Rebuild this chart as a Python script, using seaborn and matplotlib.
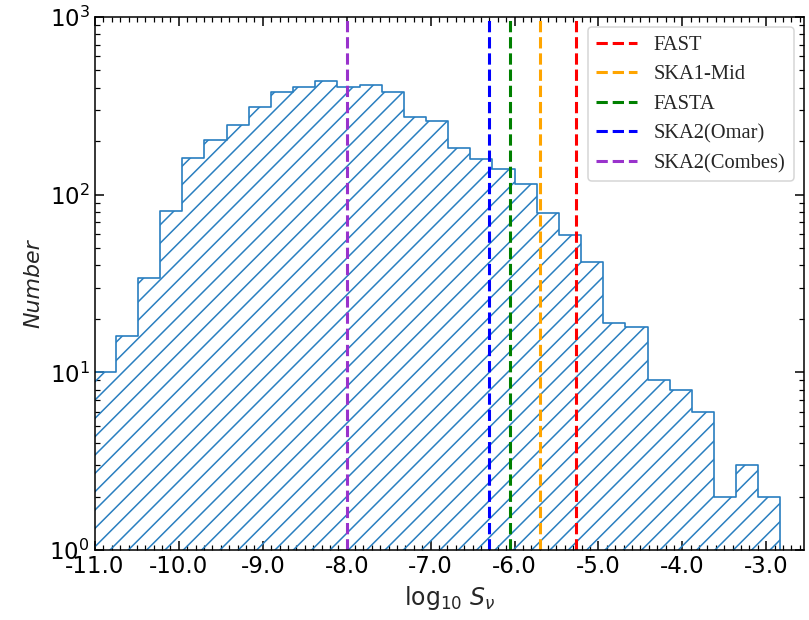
import numpy as np
import pandas as pd
import matplotlib
matplotlib.use("Agg")
import matplotlib.pyplot as plt
from matplotlib.ticker import FormatStrFormatter, MultipleLocator
import seaborn as sns

# histogram of log10 flux
bin_lo, bin_hi, n_bins = -11.015, -2.83, 31
counts = [10, 16, 34, 81, 160, 203, 247, 310, 379, 405, 436, 405, 414, 376, 275,
          260, 182, 158, 139, 115, 79, 59, 42, 19, 18, 9, 8, 6, 2, 3, 2]

# detection limits
surveys = ["FAST", "SKA1-Mid", "FASTA", "SKA2(Omar)", "SKA2(Combes)"]
limits = [-5.27, -5.70, -6.05, -6.30, -8.0]
line_colors = ["red", "orange", "green", "blue", "darkorchid"]

edges = np.linspace(bin_lo, bin_hi, n_bins + 1)
centers = 0.5 * (edges[:-1] + edges[1:])
df = pd.DataFrame({"logS": centers, "n": counts})

sns.set_style("ticks")
plt.rcParams["hatch.color"] = "#2a7fc0"
plt.rcParams["hatch.linewidth"] = 1.0

fig = plt.figure(figsize=(809 / 110, 620 / 110), dpi=110)
ax = fig.add_axes([0.1174, 0.1129, 0.8764, 0.8597])

sns.histplot(data=df, x="logS", weights="n", bins=n_bins,
             binrange=(bin_lo, bin_hi), element="step",
             fill=True, color="#2a7fc0", ax=ax, legend=False)
poly = ax.collections[0]
poly.set_facecolor("none")
poly.set_edgecolor("#2a7fc0")
poly.set_hatch("//")
poly.set_linewidth(1.1)

for name, x, c in zip(surveys, limits, line_colors):
    ax.axvline(x, color=c, ls="--", lw=2, label=name)

ax.set_yscale("log")
ax.set_ylim(1, 1000)
ax.set_xlim(-11.0, -2.55)
ax.xaxis.set_major_locator(MultipleLocator(1.0))
ax.xaxis.set_minor_locator(MultipleLocator(0.1))
ax.xaxis.set_major_formatter(FormatStrFormatter("%.1f"))

ax.tick_params(which="both", direction="in", top=True, right=True,
               labelsize=15, colors="black")
ax.tick_params(which="major", length=6, width=1)
ax.tick_params(which="minor", length=3.5, width=0.8)
for s in ax.spines.values():
    s.set_color("black")
    s.set_linewidth(1)

ax.set_xlabel(r"$\log_{10}\,S_{\nu}$", fontsize=15.5)
ax.set_ylabel("Number", fontsize=14.5, fontstyle="italic")

ax.legend(loc="upper right", prop={"family": "Liberation Serif", "size": 13.4},
          fancybox=True, framealpha=0.8)

fig.savefig("out.png", dpi=110)
